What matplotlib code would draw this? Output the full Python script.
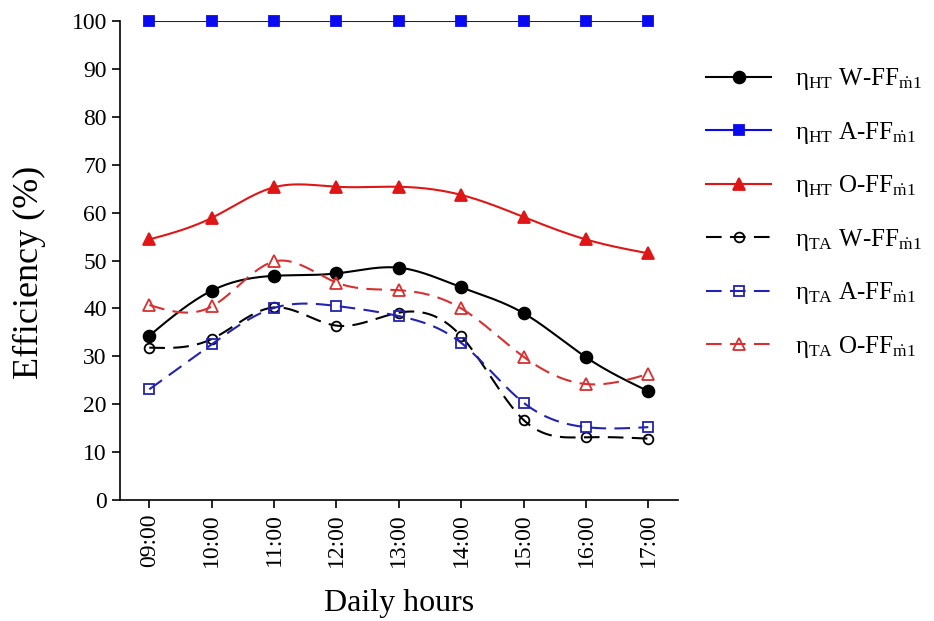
import numpy as np
import matplotlib
matplotlib.use('Agg')
import matplotlib.pyplot as plt

plt.rcParams['font.family'] = 'Liberation Serif'
plt.rcParams['mathtext.fontset'] = 'custom'
plt.rcParams['mathtext.rm'] = 'Liberation Serif'
plt.rcParams['mathtext.it'] = 'Liberation Serif:italic'

# hours of the day
hours = ['09:00', '10:00', '11:00', '12:00', '13:00', '14:00', '15:00', '16:00', '17:00']

# efficiencies (%)
ht_water = [34.3, 43.7, 46.8, 47.3, 48.5, 44.4, 39.0, 29.8, 22.7]
ht_air = [100, 100, 100, 100, 100, 100, 100, 100, 100]
ht_oil = [54.4, 58.9, 65.3, 65.4, 65.4, 63.7, 59.1, 54.4, 51.5]
ta_water = [31.8, 33.6, 40.2, 36.4, 39.1, 34.2, 16.7, 13.1, 12.8]
ta_air = [23.1, 32.5, 40.1, 40.5, 38.4, 32.8, 20.3, 15.2, 15.2]
ta_oil = [40.7, 40.4, 49.8, 45.4, 43.8, 40.0, 29.9, 24.2, 26.3]


def spline(x, y, n=300):
    # natural cubic spline through the points
    x = np.asarray(x, dtype=float)
    y = np.asarray(y, dtype=float)
    k = len(x)
    h = np.diff(x)
    A = np.zeros((k, k))
    b = np.zeros(k)
    A[0, 0] = 1
    A[-1, -1] = 1
    for i in range(1, k-1):
        A[i, i-1] = h[i-1]
        A[i, i] = 2*(h[i-1]+h[i])
        A[i, i+1] = h[i]
        b[i] = 6*((y[i+1]-y[i])/h[i] - (y[i]-y[i-1])/h[i-1])
    M = np.linalg.solve(A, b)
    xs = np.linspace(x[0], x[-1], n)
    ys = np.zeros(n)
    for j, t in enumerate(xs):
        i = min(np.searchsorted(x, t, side='right')-1, k-2)
        a = x[i+1]-t
        c = t-x[i]
        ys[j] = (M[i]*a**3 + M[i+1]*c**3)/(6*h[i]) + (y[i]/h[i]-M[i]*h[i]/6)*a + (y[i+1]/h[i]-M[i+1]*h[i]/6)*c
    return xs, ys


fig = plt.figure(figsize=(9.34, 6.21), dpi=100)
ax = fig.add_axes([0.1285, 0.195, 0.597, 0.771])

x = np.arange(len(hours))
dash = (0, (7.5, 4))
lw = 1.5

series = [
    (ht_water, 'η$_{\\mathrm{HT}}$ W-FF$_{\\dot{\\mathrm{m}}1}$', dict(color='black', ls='-', marker='o', ms=8.5, mfc='black')),
    (ht_air, 'η$_{\\mathrm{HT}}$ A-FF$_{\\dot{\\mathrm{m}}1}$', dict(color='#0a0af0', ls='-', marker='s', ms=7, mfc='#0a0af0')),
    (ht_oil, 'η$_{\\mathrm{HT}}$ O-FF$_{\\dot{\\mathrm{m}}1}$', dict(color='#e01515', ls='-', marker='^', ms=8.5, mfc='#e01515')),
    (ta_water, 'η$_{\\mathrm{TA}}$ W-FF$_{\\dot{\\mathrm{m}}1}$', dict(color='black', ls=dash, marker='o', ms=7, mfc='none')),
    (ta_air, 'η$_{\\mathrm{TA}}$ A-FF$_{\\dot{\\mathrm{m}}1}$', dict(color='#2323b0', ls=dash, marker='s', ms=6.5, mfc='none')),
    (ta_oil, 'η$_{\\mathrm{TA}}$ O-FF$_{\\dot{\\mathrm{m}}1}$', dict(color='#d83030', ls=dash, marker='^', ms=8, mfc='none')),
]

handles = []
for vals, label, st in series:
    xs, ys = spline(x, vals)
    ax.plot(xs, ys, color=st['color'], ls=st['ls'], lw=lw)
    ax.plot(x, vals, ls='none', marker=st['marker'], ms=st['ms'], mfc=st['mfc'],
            mec=st['color'], mew=1.3, clip_on=False)
    h, = ax.plot([], [], color=st['color'], ls=st['ls'], lw=lw, marker=st['marker'],
                 ms=st['ms'], mfc=st['mfc'], mec=st['color'], mew=1.3, label=label)
    handles.append(h)

ax.set_xlim(-0.47, 8.47)
ax.set_ylim(0, 100)
ax.set_yticks(np.arange(0, 101, 10))
ax.set_xticks(x)
ax.set_xticklabels(hours, rotation=90)
ax.tick_params(direction='out', length=6, width=1.2, labelsize=17)
for s in ['top', 'right']:
    ax.spines[s].set_visible(False)
for s in ['left', 'bottom']:
    ax.spines[s].set_linewidth(1.2)

ax.set_xlabel('Daily hours', fontsize=23, labelpad=16)
ax.set_ylabel('Efficiency (%)', fontsize=26)
ax.yaxis.set_label_coords(-0.133, 0.475)

fig.legend(handles=handles, loc='upper left', bbox_to_anchor=(0.756, 0.893),
           frameon=False, fontsize=18, handlelength=2.6, handletextpad=0.95,
           labelspacing=1.1, borderpad=0, borderaxespad=0)

fig.savefig('out.png', dpi=100)
